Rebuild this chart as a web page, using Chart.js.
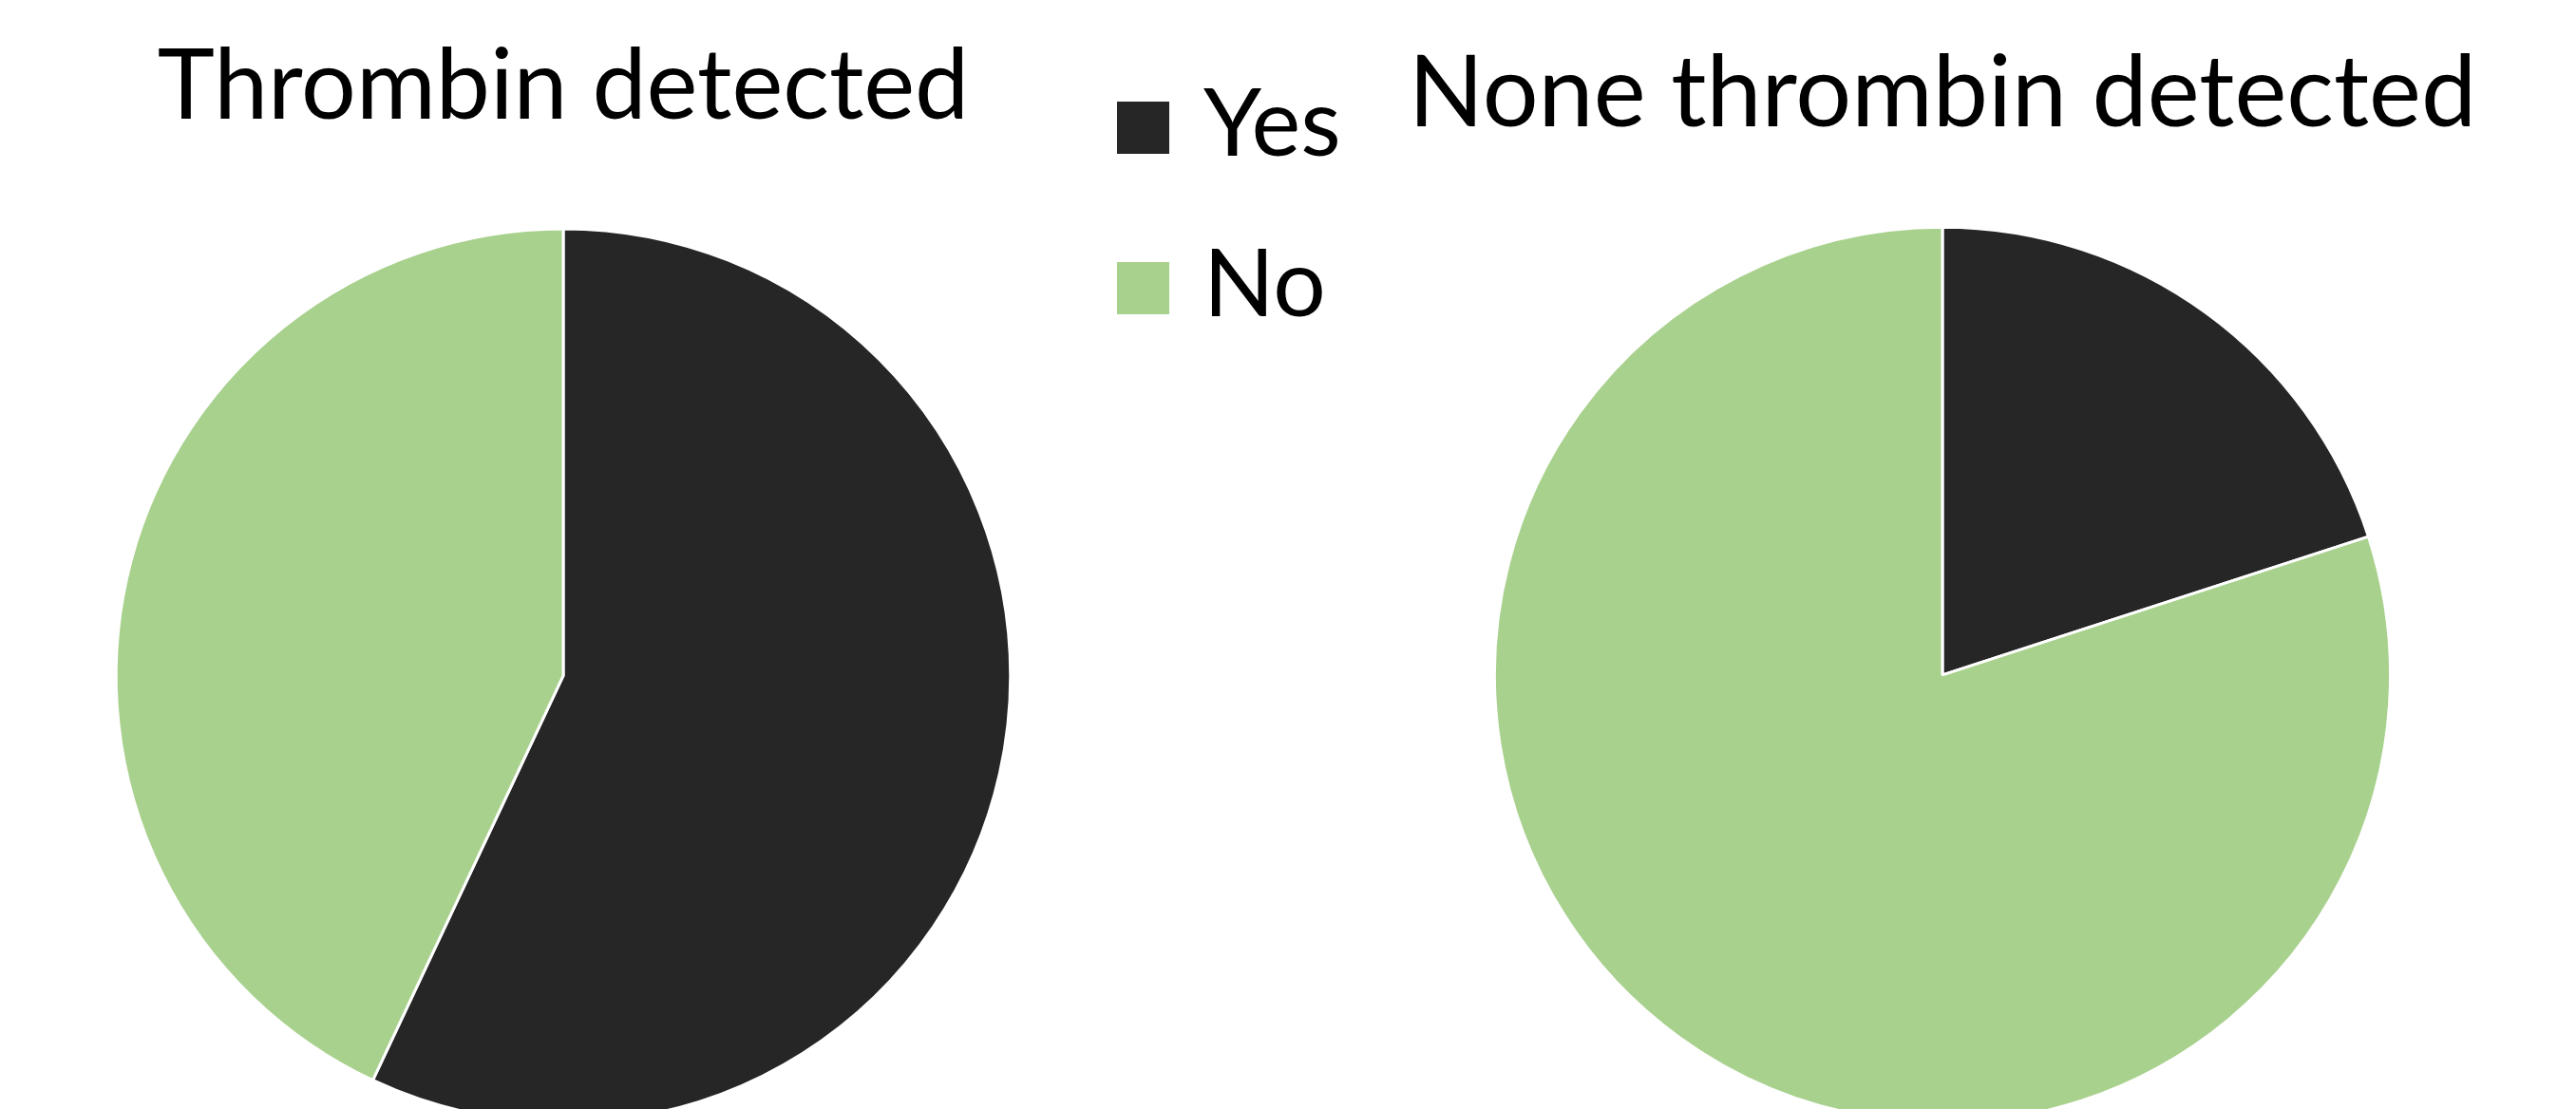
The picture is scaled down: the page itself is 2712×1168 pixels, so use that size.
<!DOCTYPE html>
<html>
<head>
<meta charset="utf-8">
<script src="https://cdn.jsdelivr.net/npm/chart.js@4/dist/chart.umd.min.js"></script>
<style>
  body { margin: 0; background: #fff; }
  #page { position: relative; width: 2712px; height: 1168px; overflow: hidden; background: #fff; }
  canvas { position: absolute; }
  #legend { position: absolute; left: 1176px; top: 0; font-family: Lato, sans-serif; font-size: 98px; color: #000; }
  .item { position: absolute; left: 0; white-space: nowrap; }
  .box { position: absolute; left: 0; width: 55px; height: 55px; }
  .lbl { position: absolute; left: 91px; line-height: 1; }
</style>
</head>
<body>
<div id="page">
  <canvas id="left" width="1000" height="1184" style="left:93px;top:0"></canvas>
  <canvas id="right" width="1334" height="1184" style="left:1378px;top:0"></canvas>
  <div id="legend"></div>
</div>
<script>
const labels = ["Yes", "No"];
const colors = ["#262626", "#A9D18E"];
const detected = [57, 43];
const noneDetected = [20, 80];
const titles = ["Thrombin detected", "None thrombin detected"];

function makePie(id, values, title, size, padTop, padBottom) {
  const ctx = document.getElementById(id).getContext("2d");
  return new Chart(ctx, {
    type: "pie",
    data: {
      labels,
      datasets: [{
        data: values,
        backgroundColor: colors,
        borderColor: "#fff",
        borderWidth: 3,
      }],
    },
    options: {
      responsive: false,
      animation: false,
      plugins: {
        legend: { display: false },
        tooltip: { enabled: false },
        title: {
          display: true,
          text: title,
          color: "#000",
          font: { family: "Lato", size: size, weight: "normal", lineHeight: 1.2 },
          padding: { top: padTop, bottom: padBottom },
        },
      },
    },
  });
}

makePie("left", detected, titles[0], 102, 31, 86);
makePie("right", noneDetected, titles[1], 104, 37, 76);

// legend built from the same labels / colours
const legend = document.getElementById("legend");
const rows = [107, 276];
labels.forEach((l, i) => {
  const item = document.createElement("div");
  item.className = "item";
  item.style.top = rows[i] + "px";
  item.innerHTML = '<div class="box" style="background:' + colors[i] + '"></div>' +
    '<div class="lbl" style="top:-30px">' + l + '</div>';
  legend.appendChild(item);
});
</script>
</body>
</html>
